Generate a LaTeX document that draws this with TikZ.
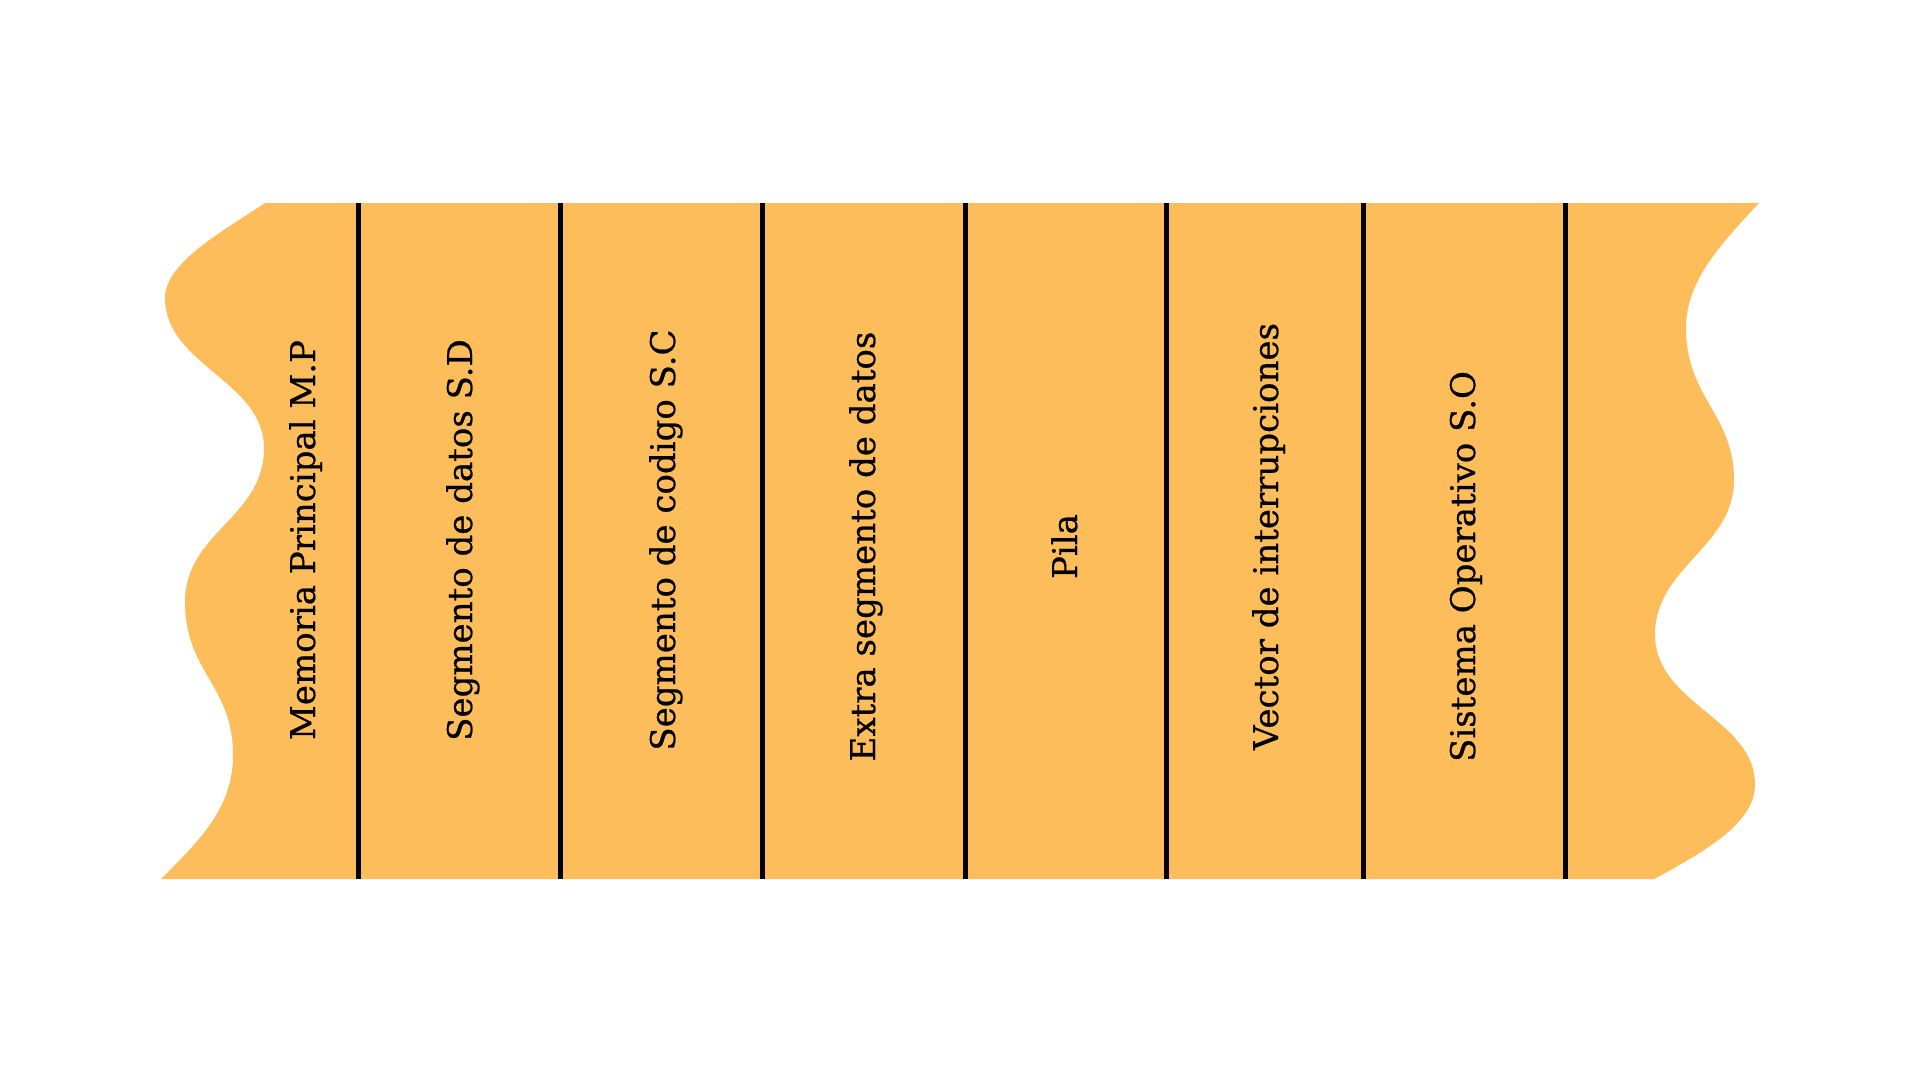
\documentclass[tikz,border=0pt]{standalone}
\usepackage{fontspec}
\setmainfont{DejaVu Serif}[FakeBold=0.6]
\definecolor{bandfill}{HTML}{FDBD5A}
\tikzset{
  sep/.style={line width=5pt, black},
  lbl/.style={rotate=90, anchor=base, inner sep=0pt, font=\fontsize{34}{40}\selectfont, text=black}
}
\begin{document}
\begin{tikzpicture}[x=1pt,y=-1pt]
\useasboundingbox (0,0) rectangle (1920,1080);
% band with wavy ends
\fill[bandfill] (265,203) -- (1759,203)
  .. controls (1722,243) and (1686,280) .. (1686,328)
  .. controls (1686,398) and (1734,414) .. (1734,480)
  .. controls (1734,547) and (1655,567) .. (1655,634.5)
  .. controls (1655,704) and (1755,719) .. (1755,784.5)
  .. controls (1755,822) and (1708,850) .. (1654,879)
  -- (161,879)
  .. controls (200,840) and (233,808) .. (233,755)
  .. controls (233,685) and (185,672) .. (185,602)
  .. controls (185,532) and (264,518) .. (264,448)
  .. controls (264,381) and (165,365) .. (165,298)
  .. controls (165,262) and (225,230) .. (265,203) -- cycle;
% separators
\foreach \i/\x in {1/358,2/560,3/762,4/965,5/1166,6/1363,7/1565}{
  \coordinate (t\i) at (\x,203);
  \coordinate (b\i) at (\x,879);
  \draw[sep] (t\i) -- (b\i);
}
% labels
\node[lbl] (n1) at (315,540) {Memoria Principal M.P};
\node[lbl] (n2) at (472,540) {Segmento de datos S.D};
\node[lbl] (n3) at (675,540) {Segmento de codigo S.C};
\node[lbl] (n4) at (875,546.5) {Extra segmento de datos};
\node[lbl] (n5) at (1077,546.5) {Pila};
\node[lbl] (n6) at (1278,536.5) {Vector de interrupciones};
\node[lbl] (n7) at (1475,566.5) {Sistema Operativo S.O};
\end{tikzpicture}
\end{document}
